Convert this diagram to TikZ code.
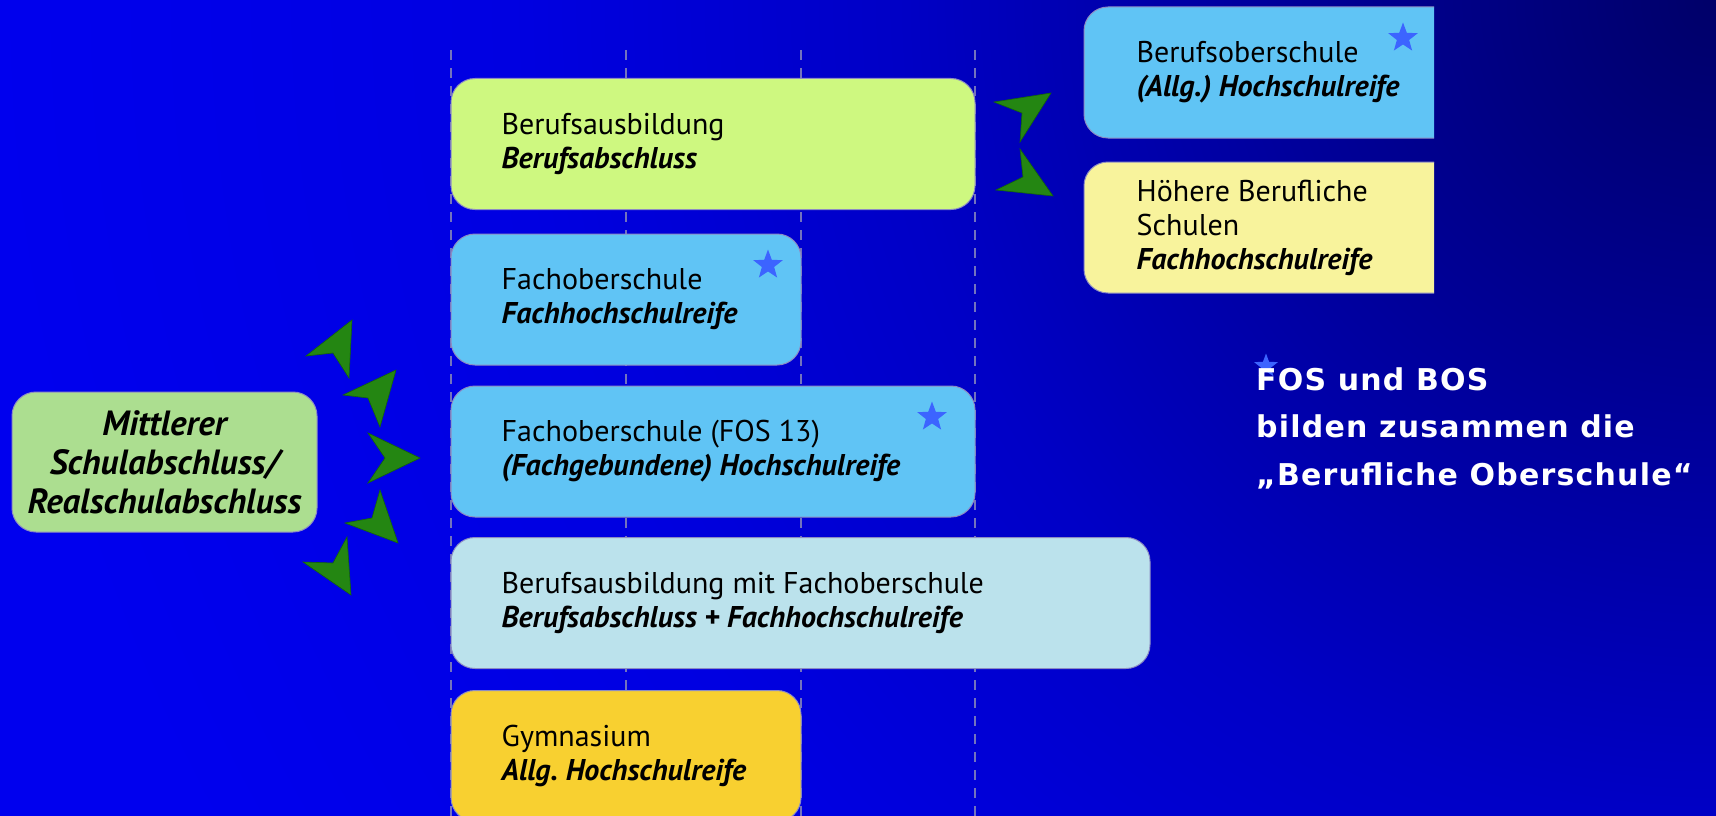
\documentclass[tikz,border=0pt]{standalone}
\usepackage{fontspec}
\setmainfont{PT Sans}
\newfontfamily\fosfont{DejaVu Sans}[LetterSpace=4]
\usetikzlibrary{shapes.geometric}
\definecolor{bg0}{RGB}{0,0,105}
\definecolor{bg1}{RGB}{0,0,150}
\definecolor{bg2}{RGB}{0,0,198}
\definecolor{bg3}{RGB}{0,0,225}
\definecolor{bg4}{RGB}{0,0,238}
\pgfdeclareradialshading{bgrad}{\pgfpointorigin}{color(0bp)=(bg0); color(10bp)=(bg1); color(20.4bp)=(bg2); color(30bp)=(bg3); color(43bp)=(bg4); color(50bp)=(bg4)}
\definecolor{cBA}{RGB}{206,248,128}
\definecolor{cFOS}{RGB}{96,196,245}
\definecolor{cHBS}{RGB}{248,243,156}
\definecolor{cBAM}{RGB}{187,226,236}
\definecolor{cGYM}{RGB}{248,208,48}
\definecolor{cMIT}{RGB}{172,222,144}
\definecolor{boxline}{RGB}{140,140,195}
\definecolor{dashc}{RGB}{115,115,190}
\definecolor{arrg}{RGB}{36,134,18}
\definecolor{arrgd}{RGB}{20,100,10}
\definecolor{starc}{RGB}{60,100,255}
\begin{document}
\frenchspacing
\begin{tikzpicture}[x=1pt,y=-1pt,
  box/.style={rounded corners=24pt, draw=boxline, line width=1pt,
    inner sep=0pt, minimum height=131pt},
  label/.style={anchor=west, inner sep=0pt, align=left,
    font=\fontsize{30}{34}\selectfont},
  grid/.style={draw=dashc, line width=1.6pt, dash pattern=on 10pt off 8pt},
  dart/.style={fill=arrg, draw=arrgd, line width=0.6pt, line join=miter},
  starmark/.style={star, star points=5, star point ratio=2.4, fill=starc,
    draw=none, inner sep=0pt, minimum size=31pt},
  fos/.style={text=white, align=left, inner sep=0pt,
    font=\fosfont\bfseries\fontsize{30}{47.5}\selectfont}]
\useasboundingbox (0,0) rectangle (1716,816);
\begin{scope}
\clip (0,0) rectangle (1716,816);
\fill[bg4] (0,0) rectangle (1716,816);
\pgftransformshift{\pgfpointxy{1716}{0}}
\pgftransformscale{40}
\pgflowlevelsynccm
\pgfuseshading{bgrad}
\end{scope}

% dashed grid lines
\foreach \gx/\gn in {451/g1,626/g2,801/g3,975/g4}{
  \coordinate (\gn top) at (\gx,50);
  \coordinate (\gn bot) at (\gx,816);
  \draw[grid] (\gn top) -- (\gn bot);
}

% boxes
\node[box, fill=cBA, minimum width=524pt] (ba) at (713,144) {};
\node[box, fill=cFOS, minimum width=350pt] (fos) at (626,299.5) {};
\node[box, fill=cFOS, minimum width=524pt] (fos13) at (713,451.5) {};
\node[box, fill=cBAM, minimum width=699pt] (bam) at (800.5,603) {};
\node[box, fill=cGYM, minimum width=350pt] (gym) at (626,756) {};
\begin{scope}
\clip (0,0) rectangle (1434,816);
\node[box, fill=cFOS, minimum width=376pt] (bos) at (1272,72.5) {};
\node[box, fill=cHBS, minimum width=376pt] (hbs) at (1272,227.5) {};
\end{scope}
\node[box, fill=cMIT, minimum width=305pt, minimum height=140pt] (mit) at (164.5,462) {};

% box texts
\node[label] (tba) at ([xshift=51pt]ba.west)
  {Berufsausbildung\\\textbf{\textit{Berufsabschluss}}};
\node[label] (tfos) at ([xshift=51pt]fos.west)
  {Fachoberschule\\\textbf{\textit{Fachhochschulreife}}};
\node[label] (tfos13) at ([xshift=51pt]fos13.west)
  {Fachoberschule (FOS 13)\\\textbf{\textit{(Fachgebundene) Hochschulreife}}};
\node[label] (tbam) at ([xshift=51pt]bam.west)
  {Berufsausbildung mit Fachoberschule\\\textbf{\textit{Berufsabschluss + Fachhochschulreife}}};
\node[label] (tgym) at ([xshift=51pt]gym.west)
  {Gymnasium\\\textbf{\textit{Allg. Hochschulreife}}};
\node[label] (tbos) at ([xshift=53pt]bos.west)
  {Berufsoberschule\\\textbf{\textit{(Allg.) Hochschulreife}}};
\node[label] (thbs) at ([xshift=53pt]hbs.west)
  {Höhere Berufliche\\Schulen\\\textbf{\textit{Fachhochschulreife}}};
\node[inner sep=0pt, align=center, font=\fontsize{35}{39}\selectfont\bfseries\itshape]
  (tmit) at (mit.center) {Mittlerer\\Schulabschluss/\\Realschulabschluss};

% stars
\node[starmark] (s1) at (768,265) {};
\node[starmark] (s2) at (932,417) {};
\node[starmark] (s3) at (1403,38) {};
\node[starmark, minimum size=25pt] (s4) at (1266,366) {};

% note text
\node[fos, anchor=base west] (note) at (1256,485)
  {FOS und BOS\\bilden zusammen die\\„Berufliche Oberschule“};

% green darts around the left box
\draw[dart] (352,320) -- (306,356) -- (333,353) -- (349,378) -- cycle;
\draw[dart] (396,370) -- (343,395) -- (368,398) -- (380,427) -- cycle;
\draw[dart] (420,458) -- (368,433) -- (385,458) -- (368,483) -- cycle;
\draw[dart] (398,543) -- (345,523) -- (372,518) -- (380,490) -- cycle;
\draw[dart] (351,595) -- (303,562) -- (333,563) -- (347,537) -- cycle;
% green darts to the right column
\draw[dart] (1051,93) -- (994,102) -- (1022,113) -- (1020,142) -- cycle;
\draw[dart] (1053,196) -- (1020,149) -- (1023,177) -- (996,190) -- cycle;
\end{tikzpicture}
\end{document}
